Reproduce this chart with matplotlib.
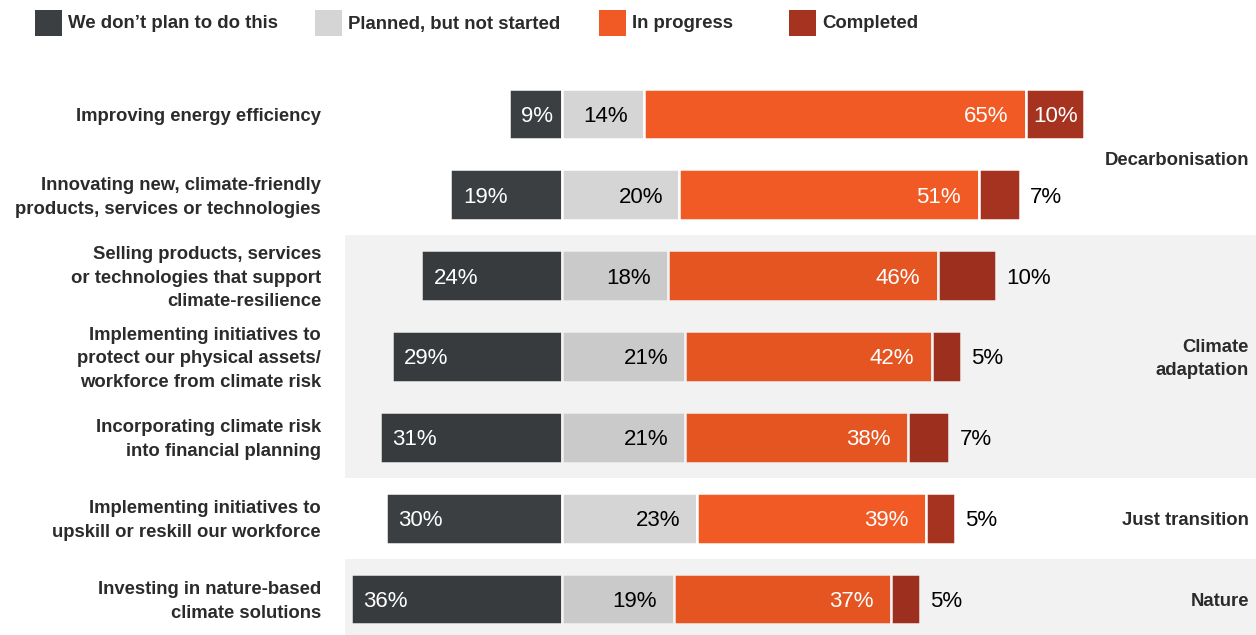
import numpy as np
import matplotlib
matplotlib.use("Agg")
import matplotlib.pyplot as plt
from matplotlib.patches import Rectangle

categories = [
    "Improving energy efficiency",
    "Innovating new, climate-friendly\nproducts, services or technologies",
    "Selling products, services\nor technologies that support\nclimate-resilience",
    "Implementing initiatives to\nprotect our physical assets/\nworkforce from climate risk",
    "Incorporating climate risk\ninto financial planning",
    "Implementing initiatives to\nupskill or reskill our workforce",
    "Investing in nature-based\nclimate solutions",
]
not_planned = [9, 19, 24, 29, 31, 30, 36]
planned = [14, 20, 18, 21, 21, 23, 19]
in_progress = [65, 51, 46, 42, 38, 39, 37]
completed = [10, 7, 10, 5, 7, 5, 5]

series_names = ["We don\u2019t plan to do this", "Planned, but not started", "In progress", "Completed"]
colors = ["#3c3f41", "#d4d5d4", "#f15a24", "#a63220"]

groups = ["Decarbonisation", "Climate\nadaptation", "Just transition", "Nature"]
group_rows = [0.55, 3, 5, 6]
shaded = [(1.5, 4.5), (5.5, 7.0)]

W, H = 1256, 635
PX = 5.87          # pixels per percentage point
ZERO = 562         # pixel position of the split
ROW = 80.83        # pixels between rows
TOP = 114          # pixel centre of first row
DY = 0.03          # small downward nudge for text

TXT = "#2b2b2b"
plt.rcParams['font.family'] = ['Liberation Sans', 'DejaVu Sans']

fig = plt.figure(figsize=(W / 100, H / 100), dpi=100)
ax = fig.add_axes([0, 0, 1, 1])
ax.set_xlim(-ZERO / PX, (W - ZERO) / PX)
ax.set_ylim(6 + (H - TOP - 6 * ROW) / ROW, -TOP / ROW)
ax.axis("off")

y = np.arange(len(categories))
npl = np.array(not_planned)
pl = np.array(planned)
ip = np.array(in_progress)
cp = np.array(completed)

kw = dict(height=0.63, edgecolor="white", linewidth=1.8, zorder=2)
ax.barh(y, -npl, left=0, color=colors[0], **kw)
ax.barh(y, pl, left=0, color=colors[1], **kw)
ax.barh(y, ip, left=pl, color=colors[2], **kw)
ax.barh(y, cp, left=pl + ip, color=colors[3], **kw)

# shaded bands (multiply-like darkening)
for y0, y1 in shaded:
    ax.axhspan(y0, y1, xmin=345 / W, xmax=1, color="black", alpha=0.05, lw=0, zorder=3)

fs = 16
for i in range(len(categories)):
    ty = i + DY
    ax.text(-npl[i] + 2.1, ty, f"{npl[i]}%", color="white", fontsize=fs, va="center", ha="left", zorder=5)
    ax.text(pl[i] - 2.8, ty, f"{pl[i]}%", color="black", fontsize=fs, va="center", ha="right", zorder=5)
    ax.text(pl[i] + ip[i] - 3.0, ty, f"{ip[i]}%", color="white", fontsize=fs, va="center", ha="right", zorder=5)
    end = pl[i] + ip[i] + cp[i]
    if end > 85:
        ax.text(pl[i] + ip[i] + cp[i] / 2, ty, f"{cp[i]}%", color="white", fontsize=fs,
                va="center", ha="center", zorder=5)
    else:
        ax.text(end + 1.7, ty, f"{cp[i]}%", color="black", fontsize=fs, va="center", ha="left", zorder=5)

# category labels
lab_tr = ax.get_yaxis_transform()
for i, c in enumerate(categories):
    ax.text(321 / W, i + DY, c, transform=lab_tr, ha="right", va="center", fontsize=13.3,
            fontweight="bold", color=TXT, linespacing=1.5)

# group labels
for g, r in zip(groups, group_rows):
    ax.text(1249 / W, r + DY, g, transform=lab_tr, ha="right", va="center", fontsize=13.3,
            fontweight="bold", color=TXT, linespacing=1.5)

# legend
leg_x = [35, 315, 599, 789]
for x, name, col in zip(leg_x, series_names, colors):
    fig.add_artist(Rectangle((x / W, 1 - 36 / H), 27 / W, 26 / H, color=col,
                             transform=fig.transFigure, lw=0))
    fig.text((x + 33) / W, 1 - 24 / H, name, ha="left", va="center", fontsize=13.4,
             fontweight="bold", color=TXT)

fig.savefig("out.png", dpi=100)
